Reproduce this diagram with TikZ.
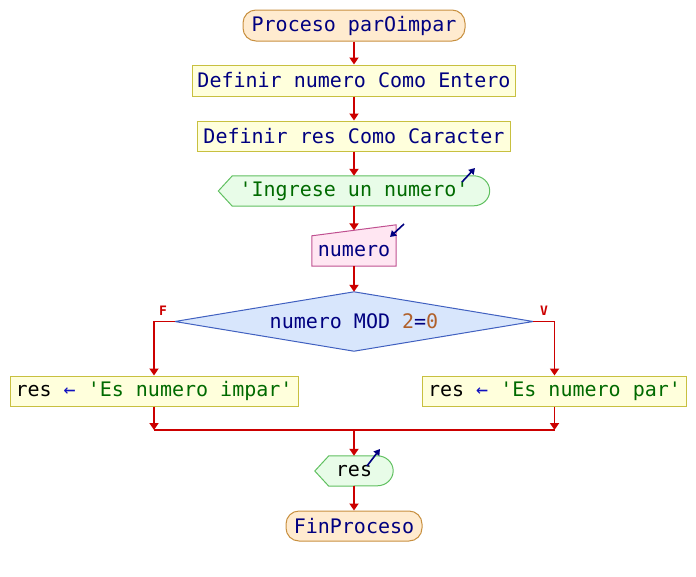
\documentclass[tikz,border=0pt]{standalone}
\usepackage{fontspec}
\setmonofont{DejaVu Sans Mono}
\usetikzlibrary{arrows.meta,backgrounds}
\definecolor{kw}{HTML}{000080}
\definecolor{strc}{HTML}{006A00}
\definecolor{numc}{HTML}{B0602A}
\definecolor{arrc}{HTML}{1010C0}
\definecolor{flowc}{HTML}{CC0000}
\definecolor{procF}{HTML}{FFEBCF}
\definecolor{procB}{HTML}{C89040}
\definecolor{defF}{HTML}{FFFFDC}
\definecolor{defB}{HTML}{C8C040}
\definecolor{outF}{HTML}{E8FCE8}
\definecolor{outB}{HTML}{60C060}
\definecolor{inF}{HTML}{FFE6F2}
\definecolor{inB}{HTML}{C05090}
\definecolor{decF}{HTML}{D8E6FC}
\definecolor{decB}{HTML}{4060C0}
\tikzset{
  txt/.style={font=\ttfamily\fontsize{20}{24}\selectfont, inner sep=0pt, text=kw},
  procbox/.style={txt, draw=procB, fill=procF, rounded corners=13pt, line width=1pt},
  defbox/.style={txt, draw=defB, fill=defF, line width=1pt},
  ghost/.style={txt},
  outshape/.style={draw=outB, fill=outF, line width=1pt},
  inshape/.style={draw=inB, fill=inF, line width=1pt},
  decshape/.style={draw=decB, fill=decF, line width=1pt},
  flow/.style={draw=flowc, line width=1.8pt, -{Triangle[width=9pt,length=7pt]}},
  flowline/.style={draw=flowc, line width=1.8pt},
  icon/.style={draw=kw, line width=1.6pt, -{Triangle[width=7pt,length=6pt]}},
  lab/.style={font=\ttfamily\bfseries\fontsize{13}{15}\selectfont, text=flowc, inner sep=0pt}
}
\begin{document}
\begin{tikzpicture}[x=1pt,y=-1pt]
\useasboundingbox (0,0) rectangle (696,576);
\node[procbox, minimum width=222pt, minimum height=31pt] (start) at (354,25.5) {Proceso parOimpar};
\node[defbox, minimum width=323pt, minimum height=31pt] (d1) at (354,80.5) {Definir numero Como Entero};
\node[defbox, minimum width=313pt, minimum height=30pt] (d2) at (354,136) {Definir res Como Caracter};
\node[ghost, minimum width=271pt, minimum height=30pt, text=strc] (o1) at (354,191) {'Ingrese un numero'};
\node[ghost, minimum width=84pt, minimum height=30pt] (in1) at (354,251) {numero};
\node[ghost, minimum width=358pt, minimum height=59pt] (dec) at (354,321.5) {numero MOD \textcolor{numc}{2}=\textcolor{numc}{0}};
\node[defbox, minimum width=288pt, minimum height=30pt, text=black] (a1) at (154,391) {res \textcolor{arrc}{←} \textcolor{strc}{'Es numero impar'}};
\node[defbox, minimum width=264pt, minimum height=30pt, text=black] (a2) at (554.5,391) {res \textcolor{arrc}{←} \textcolor{strc}{'Es numero par'}};
\node[ghost, minimum width=78pt, minimum height=30pt, text=black] (o2) at (354,471) {res};
\node[procbox, minimum width=136pt, minimum height=30pt] (fin) at (354,526) {FinProceso};
\begin{scope}[on background layer]
\draw[outshape] (o1.west) -- ([xshift=14pt]o1.north west) -- ([xshift=-16pt]o1.north east) arc[start angle=90, end angle=-90, x radius=16pt, y radius=15pt] -- ([xshift=14pt]o1.south west) -- cycle;
\draw[outshape] (o2.west) -- ([xshift=14pt]o2.north west) -- ([xshift=-16pt]o2.north east) arc[start angle=90, end angle=-90, x radius=16pt, y radius=15pt] -- ([xshift=14pt]o2.south west) -- cycle;
\draw[inshape] (in1.south west) -- (in1.north west) -- ([yshift=11pt]in1.north east) -- (in1.south east) -- cycle;
\draw[decshape] (dec.north) -- (dec.east) -- (dec.south) -- (dec.west) -- cycle;
\end{scope}
\draw[icon] (462,182) -- (475,168);
\draw[icon] (404,224) -- (390,237);
\draw[icon] (367,466) -- (380,449);
\draw[flow] (start.south) -- (d1.north);
\draw[flow] (d1.south) -- (d2.north);
\draw[flow] (d2.south) -- (o1.north);
\draw[flow] (o1.south) -- ([yshift=5.5pt]in1.north);
\draw[flow] (in1.south) -- (dec.north);
\draw[flow] (dec.west) -| (a1.north);
\draw[flow] (dec.east) -| (a2.north);
\node[lab] (fl) at (163,311) {F};
\node[lab] (vl) at (544,311) {V};
\coordinate (m) at (354,430);
\draw[flow] (a1.south) -- (a1.south |- m);
\draw[flow] (a2.south) -- (a2.south |- m);
\draw[flowline] (a1.south |- m) -- (a2.south |- m);
\draw[flow] (m) -- (o2.north);
\draw[flow] (o2.south) -- (fin.north);
\end{tikzpicture}
\end{document}
